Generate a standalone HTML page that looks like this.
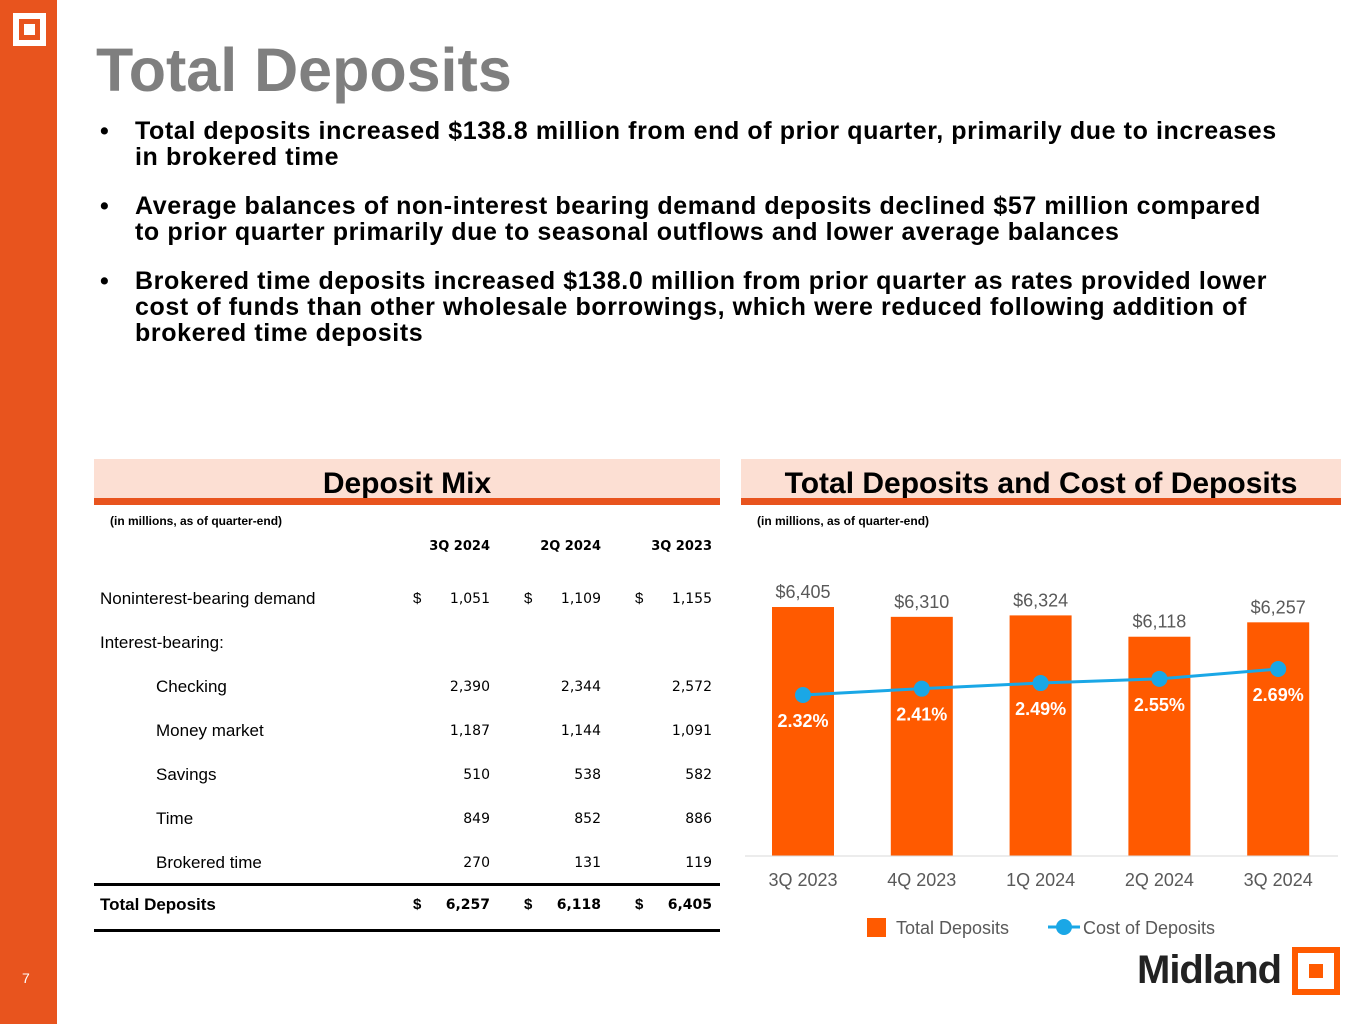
<!DOCTYPE html>
<html><head><meta charset="utf-8"><style>
*{margin:0;padding:0;box-sizing:border-box}
body{width:1365px;height:1024px;position:relative;background:#fff;font-family:"Liberation Sans",sans-serif;overflow:hidden}
.abs{position:absolute}
.bul{position:absolute;left:100px;font-weight:bold;font-size:25px;color:#000;line-height:26px;letter-spacing:0.6px}
.bul span{position:absolute;left:35px;width:1150px}
</style></head><body>
<div class="abs" style="left:0;top:0;width:57px;height:1024px;background:#E8541E"></div>
<div class="abs" style="left:13px;top:13px;width:33px;height:33px;border:6px solid #fff;"><div style="position:absolute;left:5px;top:5px;width:11px;height:11px;background:#fff"></div></div>
<div class="abs" style="left:22px;top:970px;color:#fff;font-size:14px">7</div>
<div class="abs" style="left:96px;top:36px;font-size:61px;font-weight:bold;color:#7f7f7f;line-height:68px">Total Deposits</div>

<div class="bul" style="top:118px">•<span>Total deposits increased $138.8 million from end of prior quarter, primarily due to increases in brokered time</span></div>
<div class="bul" style="top:193px">•<span>Average balances of non-interest bearing demand deposits declined $57 million compared to prior quarter primarily due to seasonal outflows and lower average balances</span></div>
<div class="bul" style="top:268px">•<span>Brokered time deposits increased $138.0 million from prior quarter as rates provided lower cost of funds than other wholesale borrowings, which were reduced following addition of brokered time deposits</span></div>

<div class="abs" style="left:94px;top:459px;width:626px;height:39px;background:#FCDFD3;text-align:center;font-weight:bold;font-size:30px;line-height:50px">Deposit Mix</div>
<div class="abs" style="left:94px;top:498px;width:626px;height:7px;background:#E8541E"></div>
<div class="abs" style="left:741px;top:459px;width:600px;height:39px;background:#FCDFD3;text-align:center;font-weight:bold;font-size:30px;line-height:50px;white-space:nowrap">Total Deposits and Cost of Deposits</div>
<div class="abs" style="left:741px;top:498px;width:600px;height:7px;background:#E8541E"></div>
<div class="abs" style="left:110px;top:514px;font-size:12px;font-weight:bold">(in millions, as of quarter-end)</div>
<div class="abs" style="left:757px;top:514px;font-size:12px;font-weight:bold">(in millions, as of quarter-end)</div>

<div id="tbl"></div>
<div class="abs" style="left:94px;top:883px;width:626px;height:3px;background:#000"></div>
<div class="abs" style="left:94px;top:929px;width:626px;height:3px;background:#000"></div>

<svg class="abs" style="left:0;top:0" width="1365" height="1024" id="chart"></svg>

<div class="abs" style="left:1137px;top:948px;font-size:40px;font-weight:bold;color:#222;letter-spacing:-1px">Midland</div>
<div class="abs" style="left:1292px;top:947px;width:48px;height:48px;background:#FF5A00"><div style="position:absolute;left:6px;top:6px;width:36px;height:36px;background:#fff"></div><div style="position:absolute;left:17px;top:17px;width:14px;height:14px;background:#FF5A00"></div></div>

<script>
const headers=["3Q 2024","2Q 2024","3Q 2023"];
const rowLabels=["Noninterest-bearing demand","Interest-bearing:","Checking","Money market","Savings","Time","Brokered time","Total Deposits"];
const rowValues=[["1,051","1,109","1,155"],null,["2,390","2,344","2,572"],["1,187","1,144","1,091"],["510","538","582"],["849","852","886"],["270","131","119"],["6,257","6,118","6,405"]];
const tbl=document.getElementById('tbl');
const colR=[490,601,712];
let h='';
headers.forEach((t,i)=>{h+=`<div class="abs" style="left:${colR[i]-80}px;width:80px;top:539px;text-align:right;font-family:'DejaVu Sans',sans-serif;font-size:13px;font-weight:bold">${t}</div>`;});
rowLabels.forEach((l,i)=>{
 const y=589+i*44-(i==7?2:0);
 const ind=(i>=2&&i<=6)?56:0;const b=i==7?'bold':'normal';
 h+=`<div class="abs" style="left:${100+ind}px;top:${y}px;font-size:17px;font-weight:${b}">${l}</div>`;
 if(rowValues[i])rowValues[i].forEach((v,j)=>{
  if(i==0||i==7)h+=`<div class="abs" style="left:${colR[j]-77}px;top:${y+1}px;font-size:15px;font-weight:${b}">$</div>`;
  h+=`<div class="abs" style="left:${colR[j]-80}px;width:80px;top:${y+2}px;text-align:right;font-family:'DejaVu Sans',sans-serif;font-size:14px;font-weight:${b}">${v}</div>`;
 });
});
tbl.innerHTML=h;

const quarters=["3Q 2023","4Q 2023","1Q 2024","2Q 2024","3Q 2024"];
const deposits=[6405,6310,6324,6118,6257];
const depLabels=["$6,405","$6,310","$6,324","$6,118","$6,257"];
const costs=[2.32,2.41,2.49,2.55,2.69];
const svg=document.getElementById('chart');
const NS='http://www.w3.org/2000/svg';
const base=856;
const xC=i=>803+i*118.8;
const yBar=v=>base-(v-4000)*0.10353;
const yLine=v=>695-(v-2.32)*70.3;
function mk(t,a,txt){const e=document.createElementNS(NS,t);for(const k in a)e.setAttribute(k,a[k]);if(txt!=null)e.textContent=txt;svg.appendChild(e);return e;}
const F='"Liberation Sans",sans-serif';
deposits.forEach((v,i)=>{
 const r=mk('rect',{x:xC(i)-31,y:yBar(v),width:62,height:base-yBar(v),fill:'#FF5A00'});
 
 
 const t=mk('text',{x:xC(i),y:yBar(v)-9,'text-anchor':'middle','font-size':18,fill:'#595959','font-family':F},depLabels[i]);
 
 
 const q=mk('text',{x:xC(i),y:886,'text-anchor':'middle','font-size':18,fill:'#595959','font-family':F},quarters[i]);
 
 
});
mk('line',{x1:745,x2:1338,y1:base,y2:base,stroke:'#d9d9d9','stroke-width':1});
mk('polyline',{points:costs.map((v,i)=>xC(i)+','+yLine(v)).join(' '),fill:'none',stroke:'#1AA7E6','stroke-width':3});
costs.forEach((v,i)=>{
 const c=mk('circle',{cx:xC(i),cy:yLine(v),r:8,fill:'#1AA7E6'});
 
 
 const t=mk('text',{x:xC(i),y:yLine(v)+32,'text-anchor':'middle','font-size':18,'font-weight':'bold',fill:'#fff','font-family':F},v.toFixed(2)+'%');
 
 
});
const l1=mk('rect',{x:867,y:918,width:19,height:19,fill:'#FF5A00'});


mk('text',{x:896,y:934,'font-size':18,fill:'#595959','font-family':F},'Total Deposits');
mk('line',{x1:1048,x2:1080,y1:927,y2:927,stroke:'#1AA7E6','stroke-width':3});
const l2=mk('circle',{cx:1064,cy:927,r:8,fill:'#1AA7E6'});


mk('text',{x:1083,y:934,'font-size':18,fill:'#595959','font-family':F},'Cost of Deposits');
</script>
</body></html>
